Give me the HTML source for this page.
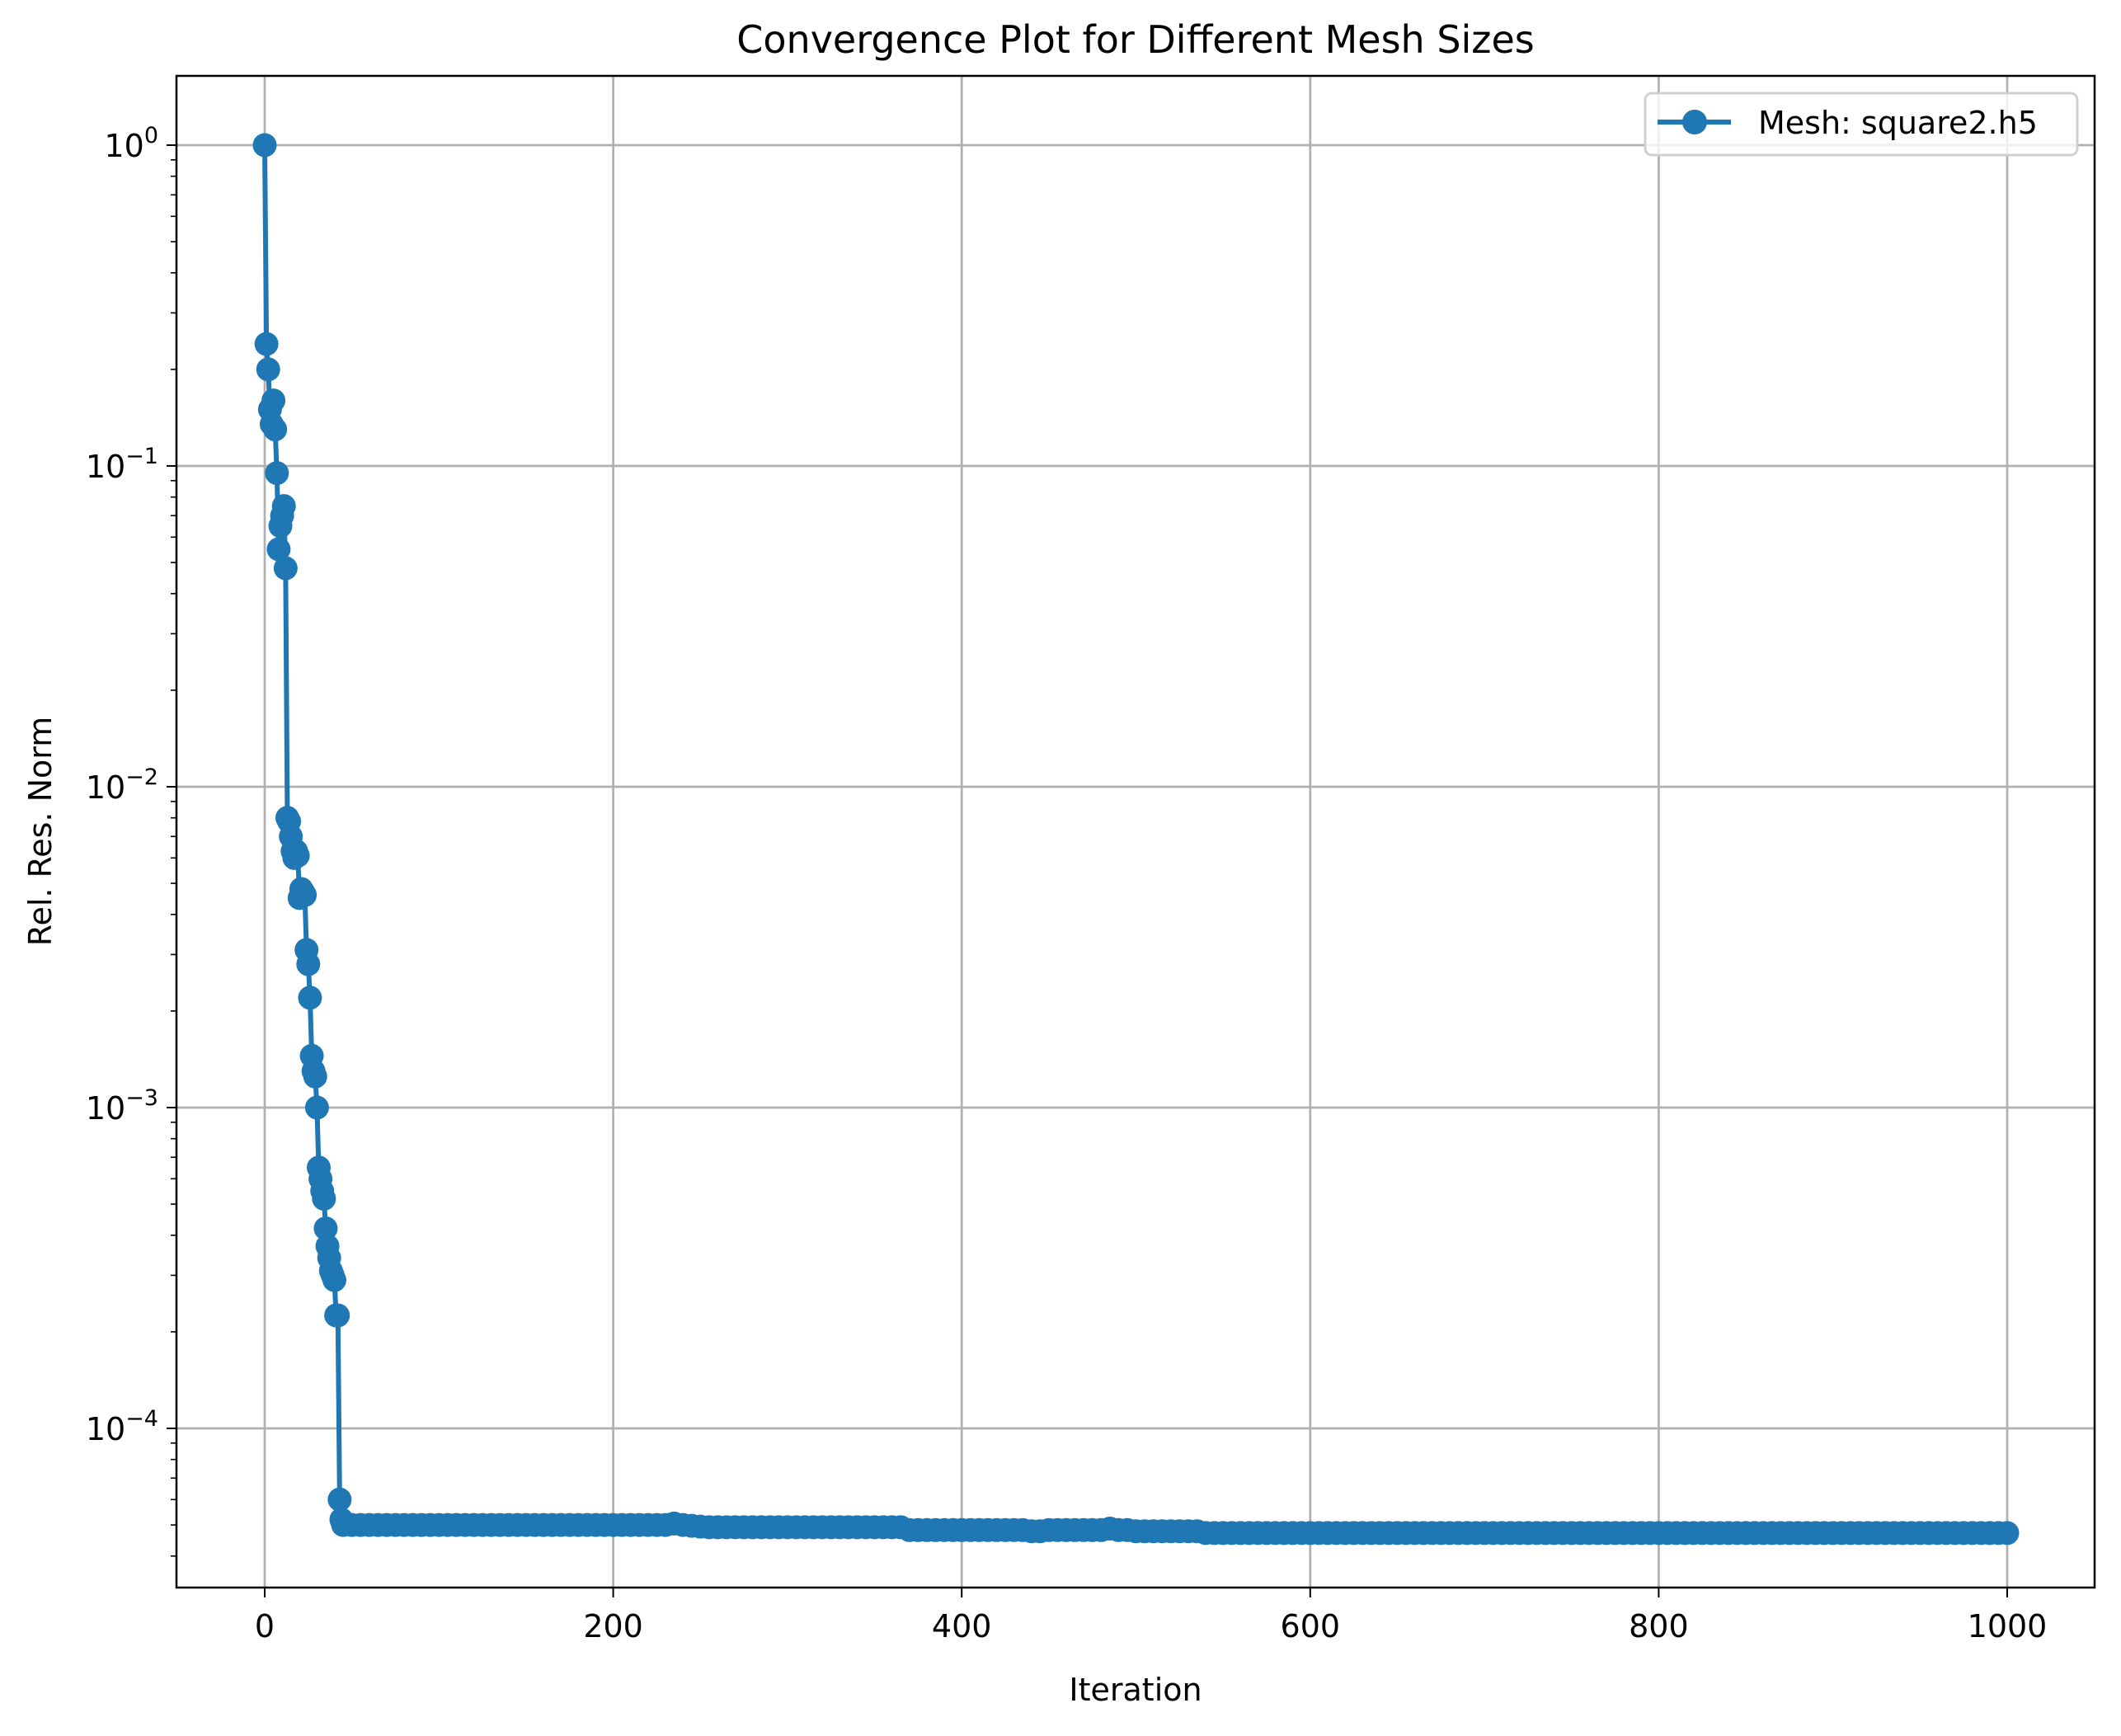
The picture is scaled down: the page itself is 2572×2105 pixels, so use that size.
<!DOCTYPE html>
<html><head><meta charset="utf-8"><style>
html,body{margin:0;padding:0;background:#fff;}
svg text{font-family:"DejaVu Sans","Liberation Sans",sans-serif;}
</style></head><body>
<svg id="chart" width="2572" height="2100" xmlns="http://www.w3.org/2000/svg">
<rect width="2572" height="2100" fill="#fff"/>
<text x="1377" y="64" font-size="46" text-anchor="middle">Convergence Plot for Different Mesh Sizes</text>
<text x="1377" y="2062" font-size="38" text-anchor="middle">Iteration</text>
<text x="62" y="1008" font-size="38" text-anchor="middle" transform="rotate(-90 62 1008)">Rel. Res. Norm</text>
<g id="grid"></g>
<g id="series"></g>
<g id="axes"></g>
<g>
<rect x="1995" y="113" width="524" height="75" rx="8" fill="#fff" fill-opacity="0.8" stroke="#d0d0d0" stroke-width="3"/>
<line x1="2010" y1="148" x2="2099" y2="148" stroke="#1f77b4" stroke-width="6"/>
<circle cx="2055" cy="148" r="15" fill="#1f77b4"/>
<text x="2132" y="162" font-size="38">Mesh: square2.h5</text>
</g>
</svg>
<script>
const iterEarly = [0,1,2,3,4,5,6,7,8,9,10,11,12,13,14,15,16,17,18,19,20,21,22,23,24,25,26,27,28,29,30,31,32,33,34,35,36,37,38,39,40,41,42,43,44,45];
const resEarly = [1.0,0.24,0.2,0.15,0.135,0.16,0.13,0.095,0.055,0.065,0.07,0.075,0.048,0.008,0.0078,0.007,0.0063,0.006,0.0063,0.0061,0.0045,0.0048,0.0047,0.0046,0.0031,0.0028,0.0022,0.00145,0.0013,0.00125,0.001,0.00065,0.0006,0.00055,0.00052,0.00042,0.00037,0.00034,0.00031,0.0003,0.00029,0.000225,0.000225,0.00006,0.000052,0.00005];
const iterPlateau = [50,55,60,65,70,75,80,85,90,95,100,105,110,115,120,125,130,135,140,145,150,155,160,165,170,175,180,185,190,195,200,205,210,215,220,225,230,235,240,245,250,255,260,265,270,275,280,285,290,295,300,305,310,315,320,325,330,335,340,345,350,355,360,365,370,375,380,385,390,395,400,405,410,415,420,425,430,435,440,445,450,455,460,465,470,475,480,485,490,495,500,505,510,515,520,525,530,535,540,545,550,555,560,565,570,575,580,585,590,595,600,605,610,615,620,625,630,635,640,645,650,655,660,665,670,675,680,685,690,695,700,705,710,715,720,725,730,735,740,745,750,755,760,765,770,775,780,785,790,795,800,805,810,815,820,825,830,835,840,845,850,855,860,865,870,875,880,885,890,895,900,905,910,915,920,925,930,935,940,945,950,955,960,965,970,975,980,985,990,995,1000];
const resPlateau = [
5.0e-5,5.0e-5,5.0e-5,5.0e-5,5.0e-5,5.0e-5,5.0e-5,5.0e-5,5.0e-5,5.0e-5,5.0e-5,5.0e-5,5.0e-5,5.0e-5,5.0e-5,5.0e-5,5.0e-5,5.0e-5,5.0e-5,5.0e-5,5.0e-5,5.0e-5,5.0e-5,5.0e-5,5.0e-5,5.0e-5,5.0e-5,5.0e-5,5.0e-5,5.0e-5,5.0e-5,5.0e-5,5.0e-5,5.0e-5,5.0e-5,5.0e-5,5.0e-5,
5.05e-5,5.0e-5,4.97e-5,4.94e-5,
4.92e-5,4.92e-5,4.92e-5,4.92e-5,4.92e-5,4.92e-5,4.92e-5,4.92e-5,4.92e-5,4.92e-5,4.92e-5,4.92e-5,4.92e-5,4.92e-5,4.92e-5,4.92e-5,4.92e-5,4.92e-5,4.92e-5,4.92e-5,4.92e-5,4.92e-5,4.92e-5,
4.82e-5,4.82e-5,4.82e-5,4.82e-5,4.82e-5,4.82e-5,4.82e-5,4.82e-5,4.82e-5,4.82e-5,4.82e-5,4.82e-5,4.82e-5,4.82e-5,
4.78e-5,4.78e-5,
4.82e-5,4.82e-5,4.82e-5,4.82e-5,4.82e-5,4.82e-5,4.82e-5,
4.87e-5,4.82e-5,4.82e-5,
4.78e-5,4.78e-5,4.78e-5,4.78e-5,4.78e-5,4.78e-5,4.78e-5,4.78e-5,
4.72e-5,4.72e-5,4.72e-5,4.72e-5,4.72e-5,4.72e-5,4.72e-5,4.72e-5,4.72e-5,4.72e-5,
4.72e-5,4.72e-5,4.72e-5,4.72e-5,4.72e-5,4.72e-5,4.72e-5,4.72e-5,4.72e-5,4.72e-5,
4.72e-5,4.72e-5,4.72e-5,4.72e-5,4.72e-5,4.72e-5,4.72e-5,4.72e-5,4.72e-5,4.72e-5,
4.72e-5,4.72e-5,4.72e-5,4.72e-5,4.72e-5,4.72e-5,4.72e-5,4.72e-5,4.72e-5,4.72e-5,
4.72e-5,4.72e-5,4.72e-5,4.72e-5,4.72e-5,4.72e-5,4.72e-5,4.72e-5,4.72e-5,4.72e-5,
4.72e-5,4.72e-5,4.72e-5,4.72e-5,4.72e-5,4.72e-5,4.72e-5,4.72e-5,4.72e-5,4.72e-5,
4.72e-5,4.72e-5,4.72e-5,4.72e-5,4.72e-5,4.72e-5,4.72e-5,4.72e-5,4.72e-5,4.72e-5,
4.72e-5,4.72e-5,4.72e-5,4.72e-5,4.72e-5,4.72e-5,4.72e-5,4.72e-5,4.72e-5,4.72e-5,
4.72e-5,4.72e-5,4.72e-5,4.72e-5,4.72e-5,4.72e-5,4.72e-5,4.72e-5,4.72e-5,4.72e-5,
4.72e-5,4.72e-5,4.72e-5];
const xTicks = [0,200,400,600,800,1000];
const yTickExps = [0,-1,-2,-3,-4];

const L=214,R=2540,T=92,B=1925;
const X0=321, XS=2.113;
function xs(v){return X0+v*XS;}
function ys(v){return 176-Math.log10(v)*389;}
const NS='http://www.w3.org/2000/svg';
function mk(tag,attrs,parent){const e=document.createElementNS(NS,tag);for(const k in attrs)e.setAttribute(k,attrs[k]);parent.appendChild(e);return e;}
const grid=document.getElementById('grid'),axes=document.getElementById('axes'),ser=document.getElementById('series');
xTicks.forEach(t=>{
  const x=xs(t);
  const g=mk('line',{x1:x,x2:x,y1:T,y2:B,stroke:'#b0b0b0','stroke-width':2.7},grid);
  
  
  mk('line',{x1:x,x2:x,y1:B,y2:B+12,stroke:'#000','stroke-width':2},axes);
  const tx=mk('text',{x:x,y:B+60,'font-size':38,'text-anchor':'middle'},axes);
  tx.textContent=t;
  
  
});
yTickExps.forEach(e=>{
  const y=ys(Math.pow(10,e));
  const g=mk('line',{x1:L,x2:R,y1:y,y2:y,stroke:'#b0b0b0','stroke-width':2.7},grid);
  
  
  mk('line',{x1:L-12,x2:L,y1:y,y2:y,stroke:'#000','stroke-width':2},axes);
  const tx=mk('text',{x:L-22,y:y+14,'font-size':38,'text-anchor':'end'},axes);
  
  
  tx.textContent='10';
  const sp=document.createElementNS(NS,'tspan');sp.setAttribute('dy','-17');sp.setAttribute('font-size','27');
  sp.textContent=e===0?'0':'\u2212'+(-e);tx.appendChild(sp);
});
for(let e=-5;e<=0;e++){for(let m=2;m<=9;m++){const v=m*Math.pow(10,e);const y=ys(v);if(y<T||y>B)continue;mk('line',{x1:L-7,x2:L,y1:y,y2:y,stroke:'#000','stroke-width':1.6},axes);}}
const fr=mk('rect',{x:L,y:T,width:R-L,height:B-T,fill:'none',stroke:'#000','stroke-width':2.5},axes);


const xsAll=iterEarly.concat(iterPlateau), ysAll=resEarly.concat(resPlateau);
const pts=xsAll.map((v,i)=>xs(v)+','+ys(ysAll[i])).join(' ');
const pl=mk('polyline',{points:pts,fill:'none',stroke:'#1f77b4','stroke-width':6,'stroke-linejoin':'round'},ser);


xsAll.forEach((v,i)=>{
  const c=mk('circle',{cx:xs(v),cy:ys(ysAll[i]),r:14.5,fill:'#1f77b4'},ser);
  
  
});
</script>
</body></html>
